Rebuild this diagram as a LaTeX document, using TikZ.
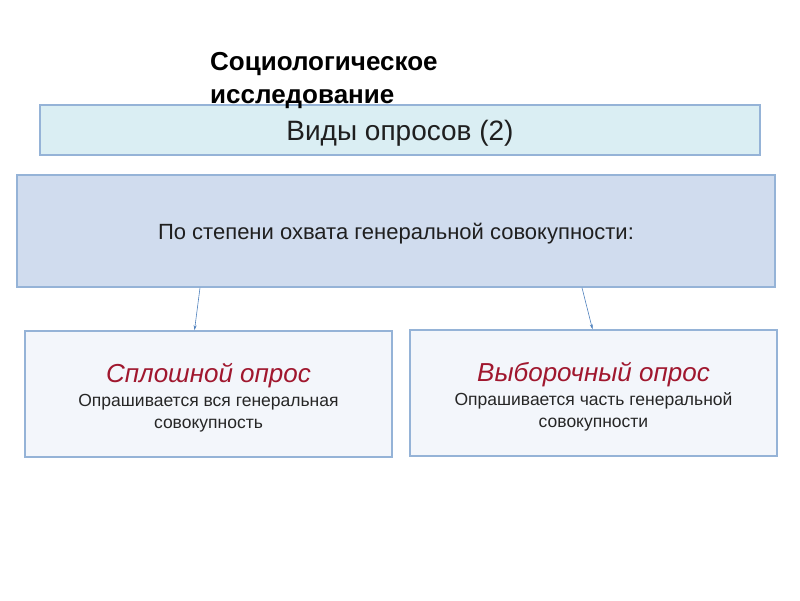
\documentclass[tikz,border=0pt]{standalone}
\usepackage{fontspec}
\setmainfont{Liberation Sans}
\usetikzlibrary{positioning,arrows.meta}
\definecolor{titlefill}{HTML}{DAEEF3}
\definecolor{bigfill}{HTML}{D0DCEE}
\definecolor{smallfill}{HTML}{F3F6FB}
\definecolor{framecol}{HTML}{95B3D7}
\definecolor{redtxt}{HTML}{A0172E}
\definecolor{arrcol}{HTML}{4F81BD}
\begin{document}
\begin{tikzpicture}[x=1pt, y=1pt,
  box/.style={draw=framecol, line width=1.6pt, align=center, inner sep=0pt},
  titlebox/.style={box, fill=titlefill, line width=1.2pt, minimum width=720pt, minimum height=50pt, font=\fontsize{28}{32}\selectfont, text=black!88},
  bigbox/.style={box, fill=bigfill, minimum width=758pt, minimum height=112pt, font=\fontsize{22}{26}\selectfont, text=black!88},
  kindbox/.style={box, fill=smallfill, minimum width=367pt, minimum height=126pt, font=\fontsize{17.5}{22}\selectfont, text=black!85},
  arr/.style={-{Stealth[length=5pt, width=3pt]}, draw=arrcol, line width=0.6pt}]
\useasboundingbox (0,0) rectangle (800,-600);
\node[titlebox] (kinds) at (400,-130) {\rule{0pt}{26.5pt}Виды опросов (2)};
\node[anchor=north west, align=left, font=\bfseries\fontsize{26}{33}\selectfont, inner sep=0pt] (study) at (210,-52) {Социологическое\\исследование};
\node[bigbox] (degree) at (396,-231) {\rule{0pt}{22pt}По степени охвата генеральной совокупности:};
\node[kindbox] (full) at (208.5,-394) {\rule{0pt}{27pt}{\color{redtxt}\itshape\fontsize{26}{30}\selectfont Сплошной опрос}\\[2pt]Опрашивается вся генеральная\\совокупность};
\node[kindbox] (sample) at (593.5,-393) {\rule{0pt}{27pt}{\color{redtxt}\itshape\fontsize{26}{30}\selectfont Выборочный опрос}\\[2pt]Опрашивается часть генеральной\\совокупности};
\draw[arr] ([xshift=-196pt]degree.south) -- ([xshift=-14pt]full.north);
\draw[arr] ([xshift=186pt]degree.south) -- ([xshift=-1pt]sample.north);
\end{tikzpicture}
\end{document}
